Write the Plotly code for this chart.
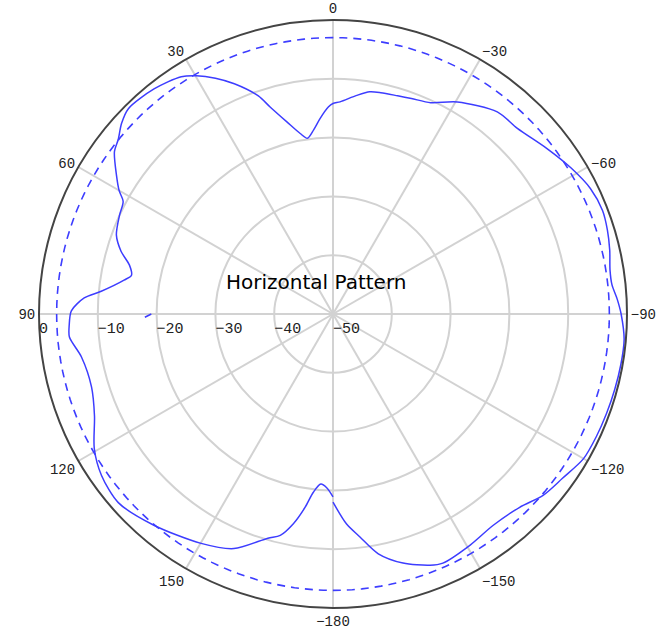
import plotly.graph_objects as go

# Measured horizontal-plane gain (dB), azimuth in degrees
theta_deg = [
    -180, -176.3, -173.1, -169.3, -164.3, -158.9, -156.2, -149.3, -142.9, -136.0,
    -130.8, -125.6, -120, -115, -110, -105, -100, -95, -90, -87,
    -84, -81, -77, -73, -69, -64, -58.5, -52.3, -44.8, -39.1,
    -30.4, -24.8, -20, -16.5, -12.2, -9.4, -6.2, -1.9, 0, 1.3,
    3.8, 6, 8.3, 10.3, 13.5, 16.9, 18.9, 23.2, 26.5, 29.8,
    32.6, 38.5, 44.9, 48, 50.8, 53.4, 57.4, 60, 61.8, 65.2,
    70, 73.5, 76.5, 79.1, 80.8, 84.4, 86.3, 89.3, 92.4, 95,
    99.7, 106.8, 113.1, 119.4, 124.9, 131.3, 139.7, 150.1, 157.1, 163.8,
    166.6, 169.3, 171.8, 173.7, 175.9, 178, 180,
]
gain_db = [
    -18.0, -14.2, -11.8, -8.5, -6.0, -4.2, -3.7, -4.3, -4.9, -4.3,
    -2.8, -2.0, -0.8, -0.6, -0.5, -0.4, -0.3, -0.3, -1.0, -1.6,
    -2.3, -2.3, -1.7, -1.2, -0.9, -1.3, -2.5, -4.0, -5.5, -5.7,
    -8.2, -10.4, -11.0, -11.3, -11.5, -11.7, -12.6, -13.9, -14.2, -14.8,
    -16.7, -18.5, -19.8, -18.8, -16.4, -13.2, -10.8, -7.4, -5.2, -3.3,
    -2.1, -1.1, -0.7, -1.6, -2.9, -3.7, -6.3, -8.0, -9.5, -10.0,
    -10.8, -12.4, -14.4, -15.1, -14.0, -10.4, -7.6, -5.5, -5.1, -5.0,
    -6.6, -7.1, -5.9, -3.4, -2.0, -1.4, -2.9, -5.0, -6.7, -10.3,
    -11.3, -13.7, -16.8, -19.5, -21.0, -20.4, -18.9,
]

# Short stray fragment of the measurement near 90 deg
stub_theta = [91, 90]
stub_gain = [-18.0, -19.1]

# -3 dB reference circle
ref_level = -3
ref_theta = list(range(0, 361, 2))

# Axis ticks
angle_ticks = [0, 30, 60, 90, 120, 150, 180, 210, 240, 270, 300, 330]
angle_labels = ["0", "30", "60", "90", "120", "150",
                "\u2212180", "\u2212150", "\u2212120", "\u221290", "\u221260", "\u221230"]
radial_ticks = [-50, -40, -30, -20, -10, 0]
radial_labels = ["\u221250", "\u221240", "\u221230", "\u221220", "\u221210", "0"]

line_color = "#3d3dff"

fig = go.Figure()
fig.add_trace(go.Scatterpolar(
    r=[ref_level] * len(ref_theta), theta=ref_theta, mode="lines",
    line=dict(color=line_color, width=1.6, dash="8px,6px"),
    hoverinfo="skip", showlegend=False,
))
fig.add_trace(go.Scatterpolar(
    r=gain_db, theta=theta_deg, mode="lines",
    line=dict(color=line_color, width=1.5, shape="spline", smoothing=0.8),
    showlegend=False,
))
fig.add_trace(go.Scatterpolar(
    r=stub_gain, theta=stub_theta, mode="lines",
    line=dict(color=line_color, width=1.5),
    showlegend=False,
))

W, H = 660, 633
cx, cy, rad = 333, 314, 294
fig.update_layout(
    width=W, height=H,
    margin=dict(l=0, r=0, t=0, b=0),
    paper_bgcolor="white",
    showlegend=False,
    polar=dict(
        domain=dict(x=[(cx - rad) / W, (cx + rad) / W],
                    y=[1 - (cy + rad) / H, 1 - (cy - rad) / H]),
        bgcolor="white",
        angularaxis=dict(
            rotation=90, direction="counterclockwise",
            tickmode="array", tickvals=angle_ticks, ticktext=angle_labels,
            ticks="", ticklen=0, showline=True, linecolor="#444444", linewidth=2,
            gridcolor="#d2d2d2", gridwidth=1.5,
            tickfont=dict(family="Liberation Mono", size=14, color="#222222"),
        ),
        radialaxis=dict(
            range=[-50, 0], angle=180, side="counterclockwise", tickangle=180,
            tickmode="array", tickvals=radial_ticks, ticktext=radial_labels,
            ticks="", ticklen=0, showline=False,
            gridcolor="#d2d2d2", gridwidth=1.5,
            tickfont=dict(family="Liberation Mono", size=15, color="#222222"),
        ),
    ),
    annotations=[dict(
        text="Horizontal Pattern", x=316 / W, y=1 - 282 / H,
        xref="paper", yref="paper", showarrow=False,
        font=dict(family="DejaVu Sans", size=20, color="black"),
    )],
)

fig.write_html("out.html")
